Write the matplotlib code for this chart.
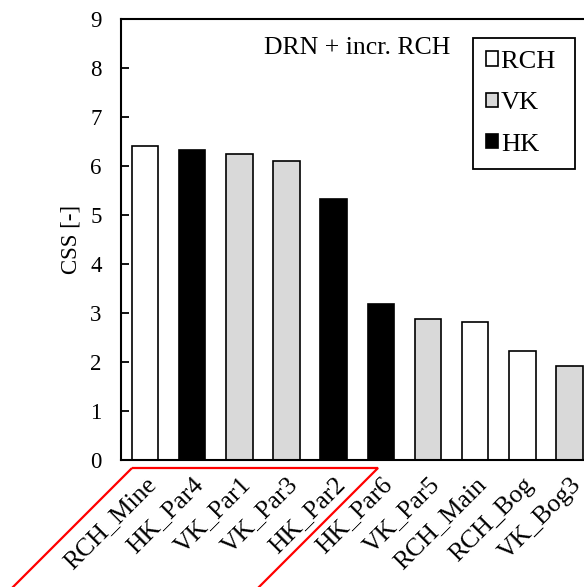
import matplotlib.pyplot as plt
from matplotlib.patches import Patch, Polygon

# CSS values per parameter, sorted high to low
params = ['RCH_Mine', 'HK_Par4', 'VK_Par1', 'VK_Par3', 'HK_Par2',
          'HK_Par6', 'VK_Par5', 'RCH_Main', 'RCH_Bog', 'VK_Bog3']
css = [6.41, 6.33, 6.25, 6.11, 5.32, 3.18, 2.87, 2.82, 2.22, 1.92]
groups = ['RCH', 'HK', 'VK', 'VK', 'HK', 'HK', 'VK', 'RCH', 'RCH', 'VK']

group_colors = {'RCH': 'white', 'VK': '#d9d9d9', 'HK': 'black'}

plt.rcParams['font.family'] = ['Liberation Serif', 'DejaVu Serif']

fig = plt.figure(figsize=(5.84, 5.87), dpi=100)
ax = fig.add_axes([0.2072, 0.2172, 0.7928, 0.7499])

x = list(range(len(params)))
ax.bar(x, css, width=0.56, color=[group_colors[g] for g in groups],
       edgecolor='black', linewidth=1.2, zorder=2)

ax.set_xlim(-0.509, 9.307)
ax.set_ylim(0, 9)
ax.set_yticks(range(0, 10))
ax.set_xticks(x)
ax.set_xticklabels(params, rotation=45, ha='right', rotation_mode='anchor', fontsize=18.5)
ax.tick_params(axis='y', direction='in', length=6, width=1.3, labelsize=16.5, pad=14)
ax.tick_params(axis='x', length=0, pad=10)
ax.set_ylabel('CSS [-]', fontsize=16.5, labelpad=6)

ax.spines['right'].set_visible(False)
for side in ['left', 'top', 'bottom']:
    ax.spines[side].set_linewidth(1.5)

ax.text(4.5, 8.42, 'DRN + incr. RCH', fontsize=18.5, ha='center', va='center')

# trailing space on the widest entry leaves room before the right frame edge
legend_labels = {'RCH': 'RCH ', 'VK': 'VK', 'HK': 'HK'}
handles = [Patch(facecolor=group_colors[g], edgecolor='black', linewidth=1.2,
                 label=legend_labels[g])
           for g in ['RCH', 'VK', 'HK']]
leg = ax.legend(handles=handles, loc='upper right', bbox_to_anchor=(0.981, 0.958),
                fontsize=19, handlelength=0.46, handleheight=0.46, handletextpad=0.1,
                labelspacing=0.73, borderpad=0.5, borderaxespad=0, fancybox=False,
                framealpha=1, edgecolor='black')
leg.get_frame().set_linewidth(1.3)

# red frame around the first five parameter labels
W, H = 584, 587
corners = [(132, 468), (378, 468), (226, 620), (-20, 620)]
fig.add_artist(Polygon([(px / W, 1 - py / H) for px, py in corners], closed=True,
                       fill=False, edgecolor='red', linewidth=1.6,
                       transform=fig.transFigure, clip_on=False))

fig.savefig('out.png', dpi=100)
